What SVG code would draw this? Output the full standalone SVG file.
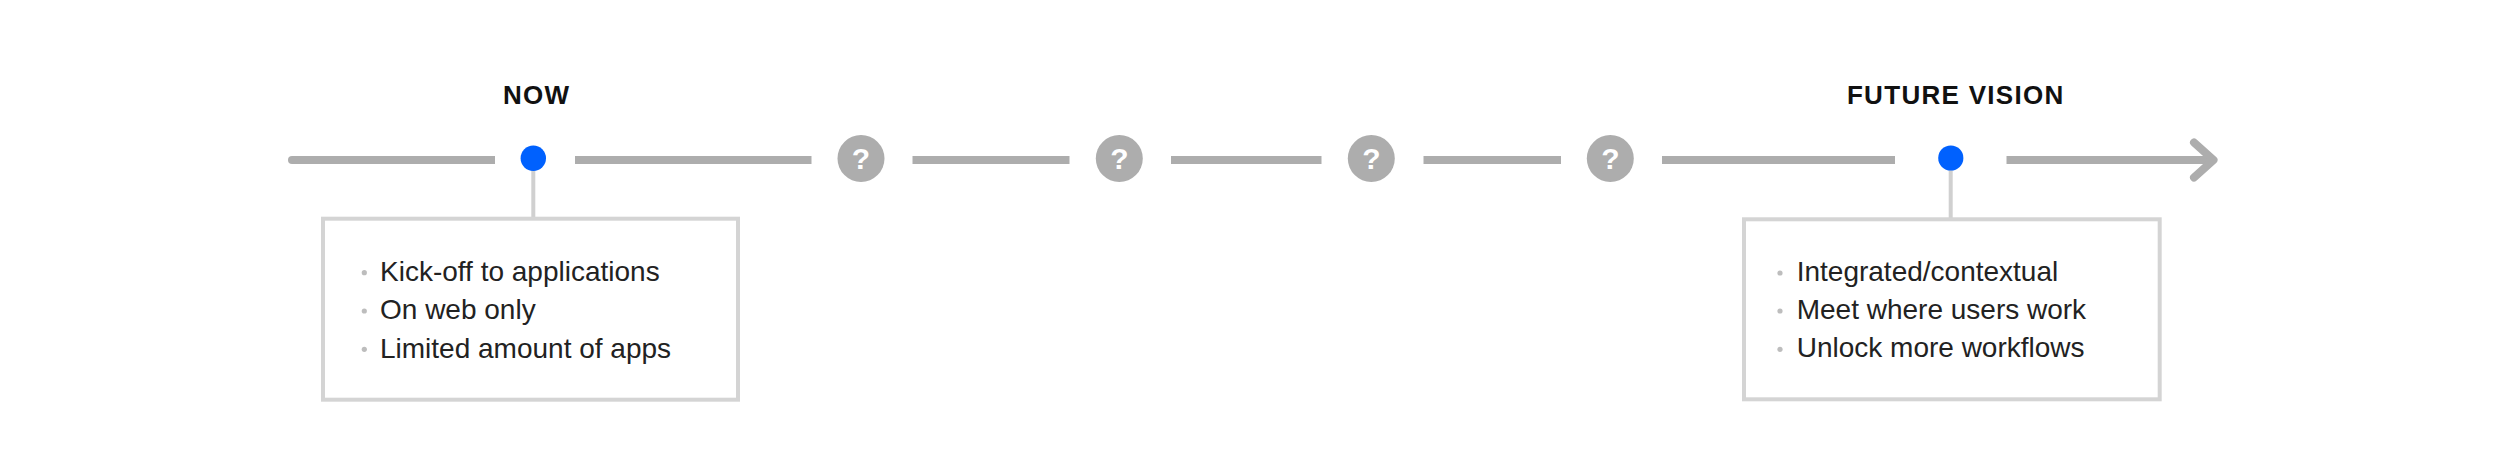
<svg xmlns="http://www.w3.org/2000/svg" width="2504" height="450" viewBox="0 0 2504 450">
<style>
.track{stroke:#adadad;stroke-width:8;fill:none}
.stem{stroke:#d0d0d0;stroke-width:4}
.box{fill:#ffffff;stroke:#d4d4d4;stroke-width:4}
.dot{fill:#0061fe}
.q{fill:#adadad}
.qt{font-family:"Liberation Sans",Arial,sans-serif;font-weight:bold;font-size:30px;fill:#ffffff;text-anchor:middle}
.title{font-family:"Liberation Sans",Arial,sans-serif;font-weight:bold;font-size:26px;letter-spacing:1.3px;fill:#111111;text-anchor:middle}
.item{font-family:"Liberation Sans",Arial,sans-serif;font-size:28px;fill:#222222}
.bul{fill:#bdbdbd}
</style>
<rect width="2504" height="450" fill="#ffffff"/>
<g id="connectors">
<circle cx="292" cy="160" r="4" fill="#adadad"/>
<line class="track" x1="292" y1="160" x2="495" y2="160"/>
<line class="track" x1="575" y1="160" x2="811.5" y2="160"/>
<line class="track" x1="912.5" y1="160" x2="1069.5" y2="160"/>
<line class="track" x1="1171" y1="160" x2="1321.5" y2="160"/>
<line class="track" x1="1423.5" y1="160" x2="1561" y2="160"/>
<line class="track" x1="1662" y1="160" x2="1895" y2="160"/>
<line class="track" x1="2006.5" y1="160" x2="2212" y2="160"/>
<polyline class="track" points="2194,142.5 2213.5,160 2194,177.5" stroke-linecap="round" stroke-linejoin="round"/>
<line class="stem" x1="533.3" y1="168" x2="533.3" y2="219"/>
<line class="stem" x1="1950.7" y1="168" x2="1950.7" y2="219"/>
</g>
<g id="now">
<text class="title" x="536.7" y="104.3">NOW</text>
<circle class="dot" cx="533.3" cy="158.3" r="12.7"/>
</g>
<g id="now-box">
<rect class="box" x="323" y="218.7" width="415" height="181"/>
<circle class="bul" cx="364.3" cy="272.7" r="2.6"/>
<circle class="bul" cx="364.3" cy="311" r="2.6"/>
<circle class="bul" cx="364.3" cy="349.3" r="2.6"/>
<text class="item" x="380" y="280.7">Kick-off to applications</text>
<text class="item" x="380" y="319.3">On web only</text>
<text class="item" x="380" y="357.7">Limited amount of apps</text>
</g>
<g id="q1">
<circle class="q" cx="861" cy="158.5" r="23.5"/>
<text class="qt" x="861" y="168.5">?</text>
</g>
<g id="q2">
<circle class="q" cx="1119.3" cy="158.5" r="23.5"/>
<text class="qt" x="1119.3" y="168.5">?</text>
</g>
<g id="q3">
<circle class="q" cx="1371.3" cy="158.5" r="23.5"/>
<text class="qt" x="1371.3" y="168.5">?</text>
</g>
<g id="q4">
<circle class="q" cx="1610.3" cy="158.5" r="23.5"/>
<text class="qt" x="1610.3" y="168.5">?</text>
</g>
<g id="future">
<text class="title" x="1955.8" y="104">FUTURE VISION</text>
<circle class="dot" cx="1950.8" cy="158" r="12.6"/>
</g>
<g id="future-box">
<rect class="box" x="1744" y="219.3" width="415.7" height="180"/>
<circle class="bul" cx="1780" cy="273" r="2.6"/>
<circle class="bul" cx="1780" cy="311" r="2.6"/>
<circle class="bul" cx="1780" cy="349.3" r="2.6"/>
<text class="item" x="1796.7" y="281">Integrated/contextual</text>
<text class="item" x="1796.7" y="319">Meet where users work</text>
<text class="item" x="1796.7" y="357.3">Unlock more workflows</text>
</g>
</svg>
